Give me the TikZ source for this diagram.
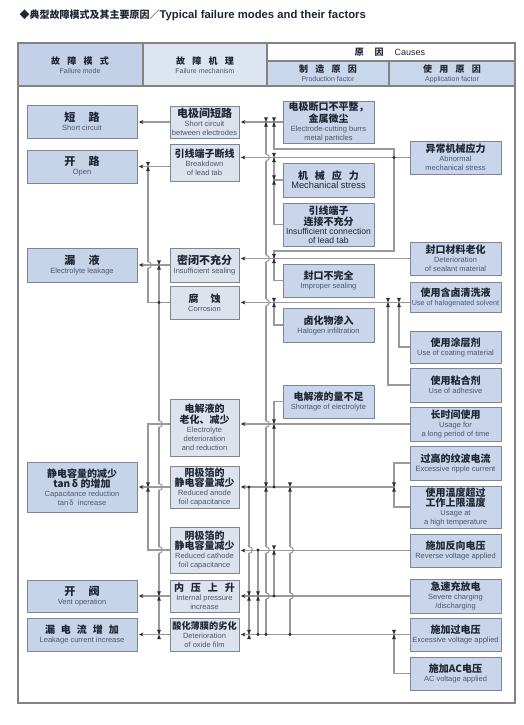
\documentclass[tikz,border=0pt]{standalone}
\usepackage{fontspec}
\setmainfont{Liberation Sans}
\newfontfamily\cjk{Noto Sans CJK SC}
\usetikzlibrary{arrows.meta}
\definecolor{FMFill}{HTML}{C6D4EA}
\definecolor{MechFill}{HTML}{DDE3EC}
\definecolor{CauseFill}{HTML}{C8D5EA}
\definecolor{HeadA}{HTML}{C2D1E8}
\definecolor{HeadB}{HTML}{DCE4F0}
\definecolor{HeadC}{HTML}{C9D7EC}
\definecolor{BoxLine}{HTML}{7E8694}
\definecolor{WireGray}{HTML}{9A9A9A}
\definecolor{MarkDark}{HTML}{2B2B2B}
\definecolor{ZhText}{HTML}{1F2633}
\definecolor{EnText}{HTML}{4C566A}

\newcommand{\zh}{\cjk\bfseries\fontsize{10}{11.2}\selectfont\color{ZhText}}
\newcommand{\zhL}{\cjk\bfseries\fontsize{11}{12.5}\selectfont\color{ZhText}}
\newcommand{\enf}{\rmfamily\mdseries\fontsize{7.5}{9}\selectfont\color{EnText}}
\newcommand{\hopat}[2]{%
  \fill[white] (#1-1.3,#2-3.2) rectangle (#1+1.3,#2+3.2);
  \draw[wire] (#1,#2-3.2) .. controls +(4.5,0) and +(4.5,0) .. (#1,#2+3.2);}
\newcommand{\hglass}[1]{%
  \fill[MarkDark] (#1) ++(-1.9,-4.6) -- ++(3.8,0) -- ++(-1.9,4.6) -- cycle
    (#1) ++(-1.9,4.6) -- ++(3.8,0) -- ++(-1.9,-4.6) -- cycle;}

\begin{document}
\begin{tikzpicture}[x=1pt,y=-1pt,
  font=\rmfamily\fontsize{7.5}{9}\selectfont,
  fmbox/.style={draw=BoxLine,line width=0.8pt,fill=FMFill,minimum width=110pt,inner sep=0.5pt,align=center},
  mechbox/.style={fmbox,fill=MechFill,minimum width=69pt},
  causebox/.style={fmbox,fill=CauseFill,minimum width=91pt},
  wire/.style={draw=WireGray,line width=1.1pt},
  arr/.style={wire,-{Stealth[length=4.5pt,width=4pt,color=MarkDark]},shorten >=1.5pt},
  frame/.style={draw=WireGray!85!black,line width=1.2pt}]
  \useasboundingbox (0,0) rectangle (523,725);

  % header
  \fill[HeadA] (18,43) rectangle (143,86);
  \fill[HeadB] (143,43) rectangle (267,86);
  \fill[HeadC] (267,61) rectangle (515,86);
  \draw[frame] (18,43) rectangle (515,703);
  \draw[frame] (18,86) -- (515,86) (143,43) -- (143,86) (267,43) -- (267,86)
    (267,61) -- (515,61) (389,61) -- (389,86);
  \node[anchor=west] (title) at (16,15)
    {\zh ◆典型故障模式及其主要原因／{\rmfamily\bfseries\fontsize{11.3}{12}\selectfont Typical failure modes and their factors}};
  \node[align=center] (hMode) at (80,65)
    {\zh\fontsize{9}{13}\selectfont 故\hspace{0.8em}障\hspace{0.8em}模\hspace{0.8em}式\\\enf\fontsize{7}{10}\selectfont Failure mode};
  \node[align=center] (hMech) at (205,65)
    {\zh\fontsize{9}{13}\selectfont 故\hspace{0.8em}障\hspace{0.8em}机\hspace{0.8em}理\\\enf\fontsize{7}{10}\selectfont Failure mechanism};
  \node (hCause) at (390,52)
    {\zh\fontsize{9}{11}\selectfont 原\hspace{1.2em}因\hspace{1.2em}{\rmfamily\mdseries\fontsize{9}{10}\selectfont Causes}};
  \node[align=center] (hProd) at (328,73.5)
    {\zh\fontsize{9}{11}\selectfont 制\hspace{0.8em}造\hspace{0.8em}原\hspace{0.8em}因\\\enf\fontsize{7}{10}\selectfont Production factor};
  \node[align=center] (hAppl) at (452,73.5)
    {\zh\fontsize{9}{11}\selectfont 使\hspace{0.8em}用\hspace{0.8em}原\hspace{0.8em}因\\\enf\fontsize{7}{10}\selectfont Application factor};

  % failure modes
  \node[fmbox,minimum height=33pt] (fmA) at (82,121.5) {\zhL 短\hspace{1.2em}路\\\enf Short circuit};
  \node[fmbox,minimum height=33pt] (fmB) at (82,166.5) {\zhL 开\hspace{1.2em}路\\\enf Open};
  \node[fmbox,minimum height=34pt] (fmC) at (82,265) {\zhL 漏\hspace{1.2em}液\\\enf Electrolyte leakage};
  \node[fmbox,minimum height=50pt] (fmD) at (82,487)
    {\zh 静电容量的减少\\\zh tan\,δ 的增加\\\enf Capacitance reduction\\\enf tan\,δ\ \ increase};
  \node[fmbox,minimum height=32pt] (fmE) at (82,596) {\zhL 开\hspace{1.2em}阀\\\enf Vent operation};
  \node[fmbox,minimum height=33pt] (fmF) at (82,634.5)
    {\zh 漏\hspace{0.6em}电\hspace{0.6em}流\hspace{0.6em}增\hspace{0.6em}加\\\enf Leakage current increase};

  % failure mechanisms
  \node[mechbox,minimum height=32pt] (mA) at (204.5,122)
    {\zhL 电极间短路\\\enf Short circuit\\\enf between electrodes};
  \node[mechbox,minimum height=37pt] (mB) at (204.5,162.5) {\zh 引线端子断线\\\enf Breakdown\\\enf of lead tab};
  \node[mechbox,minimum height=34pt] (mC) at (204.5,265)
    {\zhL 密闭不充分\\\enf Insufficient sealing};
  \node[mechbox,minimum height=33pt] (mD) at (204.5,302.5) {\zh 腐\hspace{1.2em}蚀\\\enf Corrosion};
  \node[mechbox,minimum height=57pt] (mE) at (204.5,427.5)
    {\zh 电解液的\\\zh 老化、减少\\\enf Electrolyte\\\enf deterioration\\\enf and reduction};
  \node[mechbox,minimum height=42pt] (mF) at (204.5,487)
    {\zh 阳极箔的\\\zh 静电容量减少\\\enf Reduced anode\\\enf foil capacitance};
  \node[mechbox,minimum height=46pt] (mG) at (204.5,550)
    {\zh 阴极箔的\\\zh 静电容量减少\\\enf Reduced cathode\\\enf foil capacitance};
  \node[mechbox,minimum height=32pt] (mH) at (204.5,596)
    {\zh 内\hspace{0.7em}压\hspace{0.7em}上\hspace{0.7em}升\\\enf Internal pressure\\\enf increase};
  \node[mechbox,minimum height=33pt] (mI) at (204.5,634.5)
    {\zh\fontsize{9.2}{10.5}\selectfont 酸化薄膜的劣化\\\enf Deterioration\\\enf of oxide film};

  % production factors
  \node[causebox,minimum height=42pt] (pA) at (328.5,122)
    {\zh 电极断口不平整，\\\zh 金属微尘\\\enf Electrode-cutting burrs\\\enf metal particles};
  \node[causebox,minimum height=34pt] (pB) at (328.5,180)
    {\zh 机\hspace{0.7em}械\hspace{0.7em}应\hspace{0.7em}力\\\rmfamily\mdseries\fontsize{9.3}{11}\selectfont\color{ZhText} Mechanical stress};
  \node[causebox,minimum height=43pt] (pC) at (328.5,224.5)
    {\zh 引线端子\\\zh 连接不充分\\\rmfamily\mdseries\fontsize{8.6}{10}\selectfont\color{ZhText} Insufficient connection\\\rmfamily\mdseries\fontsize{8.6}{10}\selectfont\color{ZhText} of lead tab};
  \node[causebox,minimum height=33pt] (pD) at (328.5,280.5) {\zh 封口不完全\\\enf Improper sealing};
  \node[causebox,minimum height=34pt] (pE) at (328.5,325) {\zh 卤化物渗入\\\enf Halogen infiltration};
  \node[causebox,minimum height=33pt] (pF) at (328.5,401.5) {\zh 电解液的量不足\\\enf Shortage of electrolyte};

  % application factors
  \node[causebox,minimum height=33pt] (aA) at (455.5,157.5) {\zh 异常机械应力\\\enf Abnormal\\\enf mechanical stress};
  \node[causebox,minimum height=33pt] (aB) at (455.5,258.5) {\zh 封口材料老化\\\enf Deterioration\\\enf of sealant material};
  \node[causebox,minimum height=30pt] (aC) at (455.5,297.5)
    {\zh 使用含卤清洗液\\\enf\fontsize{7.2}{9}\selectfont Use of halogenated solvent};
  \node[causebox,minimum height=32pt] (aD) at (455.5,347) {\zh 使用涂层剂\\\enf Use of coating material};
  \node[causebox,minimum height=34pt] (aE) at (455.5,385) {\zh 使用粘合剂\\\enf Use of adhesive};
  \node[causebox,minimum height=34pt] (aF) at (455.5,424) {\zh 长时间使用\\\enf Usage for\\\enf a long period of time};
  \node[causebox,minimum height=34pt] (aG) at (455.5,463) {\zh 过高的纹波电流\\\enf Excessive ripple current};
  \node[causebox,minimum height=42pt] (aH) at (455.5,507)
    {\zh 使用温度超过\\\zh 工作上限温度\\\enf Usage at\\\enf a high temperature};
  \node[causebox,minimum height=33pt] (aI) at (455.5,550.5) {\zh 施加反向电压\\\enf Reverse voltage applied};
  \node[causebox,minimum height=34pt] (aJ) at (455.5,596) {\zh 急速充放电\\\enf Severe charging\\\enf /discharging};
  \node[causebox,minimum height=33pt] (aK) at (455.5,634.5) {\zh 施加过电压\\\enf Excessive voltage applied};
  \node[causebox,minimum height=33pt] (aL) at (455.5,673.5) {\zh 施加AC电压\\\enf AC voltage applied};

  % trunk lines
  \coordinate (tA) at (148,0);
  \coordinate (tB) at (159,0);
  \coordinate (tC) at (249,0);
  \coordinate (tD) at (258,0);
  \coordinate (tE) at (266,0);
  \coordinate (tF) at (274,0);
  \coordinate (tG) at (290,0);
  \coordinate (tH) at (388,0);
  \coordinate (tI) at (394,0);
  \coordinate (tJ) at (399,0);
  \coordinate (kA) at (394,149);
  \coordinate (kB) at (394,251);

  \draw[wire] (mD.west) -| (tA |- fmB.east);
  \draw[wire] (tB |- fmC.east) -- (tB |- fmF.east);
  \draw[wire] (tE |- mA.east) -- (tE |- mI.east);
  \draw[wire] (tC |- mF.east) -- (tC |- mI.east);
  \draw[wire] (tD |- mG.east) -- (tD |- mI.east);
  \draw[wire] (tF |- mG.east) -- (tF |- mH.east);
  \draw[wire] (tG |- mF.east) -- (tG |- mI.east);
  \draw[wire] (tI |- aA.west) -- (kA) -| (tF |- pA.west);
  \draw[wire] (tI |- aA.west) -- (kB) -| (tF |- aB.west);
  \draw[wire] (tF |- aA.west) |- (pC.west);
  \draw[wire] (pB.west) -- (tF |- pB.west);
  \draw[wire] (tF |- aB.west) |- (pD.west);
  \draw[wire] (tF |- mD.east) |- (pE.west);
  \draw[wire] (tJ |- mD.east) |- (aD.west);
  \draw[wire] (tH |- mD.east) |- (aE.west);
  \draw[wire] (pF.west) -| (tF |- mF.east);
  \draw[wire] (aG.west) -| (tI |- aH.west) -- (aH.west);
  \draw[wire] (aL.west) -| (tI |- aK.west);

  % line hops
  \hopat{148}{265}
  \hopat{159}{424} \hopat{159}{487} \hopat{159}{550}
  \hopat{266}{157.5} \hopat{266}{258.5} \hopat{266}{302.5}
  \hopat{266}{424} \hopat{266}{550} \hopat{266}{596}
  \hopat{249}{550} \hopat{290}{550} \hopat{290}{596}

  % causes -> mechanisms
  \draw[arr] (pA.west) -- (mA.east);
  \draw[arr] (aA.west) -- (aA.west -| mB.east);
  \draw[arr] (aB.west) -- (aB.west -| mC.east);
  \draw[arr] (aC.west |- mD.east) -- (mD.east);
  \draw[arr] (aF.west) -- (aF.west -| mE.east);
  \draw[arr] (tI |- mF.east) -- (mF.east);
  \draw[arr] (aI.west) -- (aI.west -| mG.east);
  \draw[arr] (aJ.west) -- (aJ.west -| mH.east);
  \draw[arr] (aK.west) -- (aK.west -| mI.east);

  % mechanisms -> failure modes
  \draw[arr] (mA.west) -- (mA.west -| fmA.east);
  \draw[arr] (fmB.east -| mB.west) -- (fmB.east);
  \draw[arr] (mC.west) -- (mC.west -| fmC.east);
  \draw[arr] (mF.west) -- (mF.west -| fmD.east);
  \draw[arr] (mH.west) -- (mH.west -| fmE.east);
  \draw[arr] (mI.west) -- (mI.west -| fmF.east);
  \draw[wire] (mE.west |- aF.west) -| (tA |- mF.west);
  \draw[wire] (mG.west) -| (tA |- mF.west);

  % junction marks
  \hglass{tE |- mA.east} \hglass{tF |- mA.east} \hglass{tF |- aA.west}
  \hglass{tF |- pB.west} \hglass{tF |- aB.west} \hglass{tA |- fmB.east}
  \hglass{tB |- fmC.east} \hglass{tF |- mD.east} \hglass{tH |- mD.east}
  \hglass{tJ |- mD.east} \hglass{tF |- aF.west} \hglass{tA |- mF.west}
  \hglass{tE |- mF.east} \hglass{tG |- mF.east} \hglass{tI |- mF.east}
  \hglass{tF |- mG.east} \hglass{tC |- mH.east} \hglass{tD |- mH.east}
  \hglass{tB |- mH.west} \hglass{tC |- mI.east} \hglass{tB |- mI.west}
  \hglass{tI |- mI.east}
  \fill[MarkDark] (tI |- aA.west) circle[radius=1.6pt] (tB |- mD.west) circle[radius=1.6pt]
    (tC |- mF.east) circle[radius=1.6pt] (tF |- mF.east) circle[radius=1.6pt]
    (tD |- mG.east) circle[radius=1.6pt] (tF |- mH.east) circle[radius=1.6pt]
    (tD |- mI.east) circle[radius=1.6pt] (tE |- mI.east) circle[radius=1.6pt]
    (tG |- mI.east) circle[radius=1.6pt];
\end{tikzpicture}
\end{document}
